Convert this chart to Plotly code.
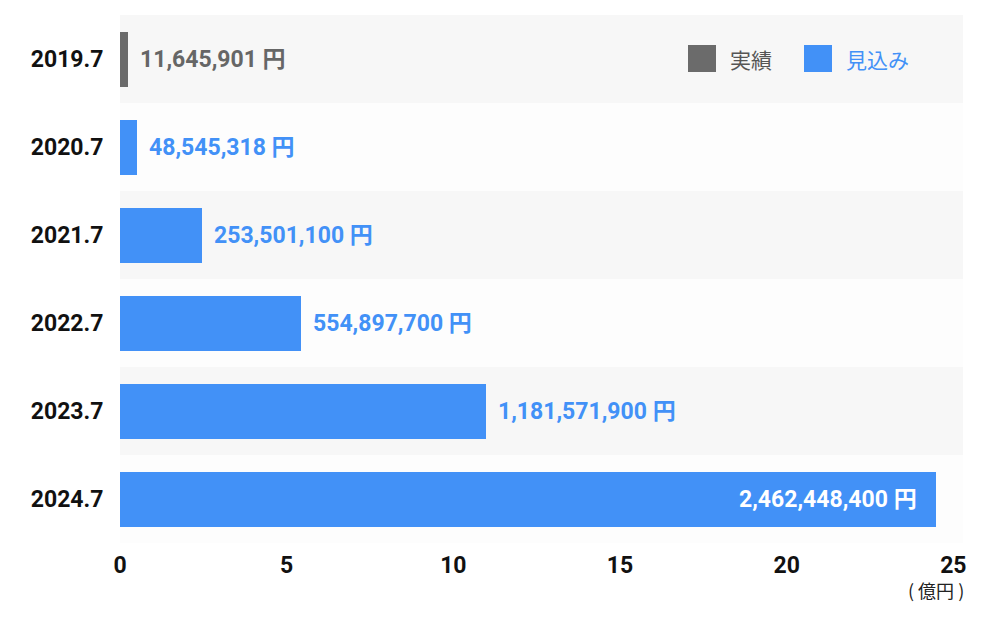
import plotly.graph_objects as go

# ---- data ----
categories = ["2019.7", "2020.7", "2021.7", "2022.7", "2023.7", "2024.7"]
bar_values = [0.24, 0.50, 2.46, 5.43, 10.98, 24.47]   # 億円 (as drawn)
value_labels = ["11,645,901 円", "48,545,318 円", "253,501,100 円",
                "554,897,700 円", "1,181,571,900 円", "2,462,448,400 円"]
series_kind = ["実績", "見込み", "見込み", "見込み", "見込み", "見込み"]
x_ticks = [0, 5, 10, 15, 20, 25]
x_unit = "(&nbsp;億円&nbsp;)"
legend_names = ["実績", "見込み"]

GRAY = "#6b6b6b"
BLUE = "#4291f7"
LABEL_GRAY = "#666666"
NUM_FONT = "Roboto, Noto Sans CJK JP, sans-serif"
CJK_FONT = "Noto Sans CJK JP, sans-serif"

W, H = 1000, 624
L, R, T, B = 120, 37, 15, 81
pw, ph = W - L - R, H - T - B

fig = go.Figure()
for name, color in zip(legend_names, [GRAY, BLUE]):
    xs = [v if k == name else None for v, k in zip(bar_values, series_kind)]
    fig.add_trace(go.Bar(
        x=xs, y=categories, orientation="h", name=name,
        marker=dict(color=color, line=dict(width=0)),
        showlegend=False, hoverinfo="skip",
    ))

# row stripes
shapes = []
for i, c in enumerate(categories):
    shapes.append(dict(type="rect", xref="paper", yref="y", x0=0, x1=1,
                       y0=i - 0.5, y1=i + 0.5, layer="below",
                       fillcolor="#f7f7f7" if i % 2 == 0 else "#fdfdfd",
                       line=dict(width=0)))

annotations = []
last = len(categories) - 1
for i, (v, lab, k) in enumerate(zip(bar_values, value_labels, series_kind)):
    inside = i == last
    annotations.append(dict(
        x=v, y=i, xref="x", yref="y", text=lab, showarrow=False,
        xanchor="right" if inside else "left", yanchor="middle",
        xshift=-17 if inside else 10,
        font=dict(family=NUM_FONT, size=23, weight=700,
                  color="white" if inside else (LABEL_GRAY if k == "実績" else BLUE)),
    ))

# manual legend (pixel layout converted to paper coords)
def px(xp):
    return (xp - L) / pw

def py(yp):
    return (H - B - yp) / ph

legend_items = [(legend_names[0], GRAY, "#555555", 688), (legend_names[1], BLUE, BLUE, 804)]
for name, fill, tcol, x0 in legend_items:
    shapes.append(dict(type="rect", xref="paper", yref="paper",
                       x0=px(x0), x1=px(x0 + 28), y0=py(72), y1=py(45),
                       fillcolor=fill, line=dict(width=0), layer="above"))
    annotations.append(dict(xref="paper", yref="paper", x=px(x0 + 40), y=py(59),
                            text=name, showarrow=False, xanchor="left", yanchor="middle",
                            font=dict(family=CJK_FONT, size=21, color=tcol)))

annotations.append(dict(xref="paper", yref="paper", x=px(936), y=py(590),
                        text=x_unit, showarrow=False, xanchor="center", yanchor="middle",
                        font=dict(family=CJK_FONT, size=18, color="#222222")))

fig.update_layout(
    width=W, height=H,
    margin=dict(l=L, r=R, t=T, b=B, pad=0),
    paper_bgcolor="white", plot_bgcolor="white",
    barmode="stack", bargap=0.375,
    shapes=shapes, annotations=annotations,
    xaxis=dict(range=[0, 25.29], tickmode="array", tickvals=x_ticks,
               showgrid=False, zeroline=False, showline=False,
               ticks="outside", ticklen=1, tickcolor="rgba(0,0,0,0)",
               tickfont=dict(family=NUM_FONT, size=23, weight=700, color="#111111")),
    yaxis=dict(type="category", categoryorder="array", categoryarray=categories,
               range=[len(categories) - 0.5, -0.5],
               showgrid=False, zeroline=False, showline=False,
               ticks="outside", ticklen=11, tickcolor="rgba(0,0,0,0)",
               tickfont=dict(family=NUM_FONT, size=23, weight=700, color="#111111")),
)

fig.write_html("out.html", config={"displayModeBar": False},
               post_script="document.body.style.margin='0px';")
